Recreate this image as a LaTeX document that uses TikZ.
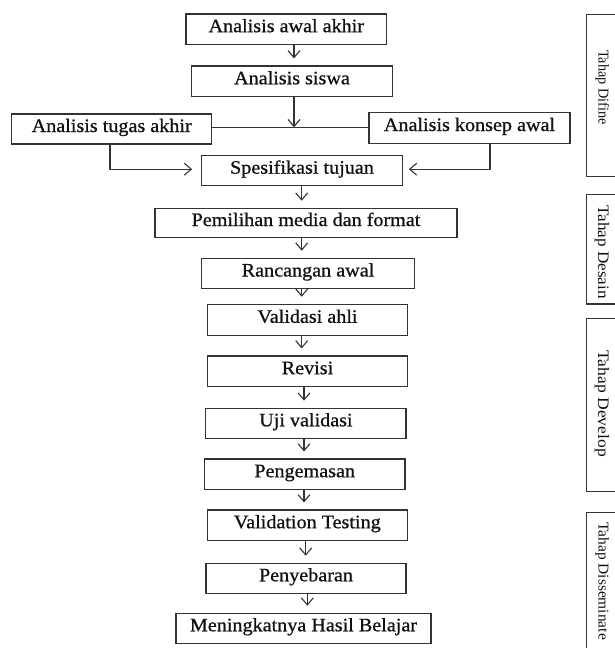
\documentclass[tikz,border=0pt]{standalone}
\usepackage{fontspec}
\setmainfont{Liberation Serif}[FakeStretch=1.06,FakeBold=0.8]
\newfontfamily\sidefont{Liberation Serif}
\usetikzlibrary{arrows.meta}
\definecolor{linecol}{HTML}{333333}
\definecolor{txtcol}{HTML}{111111}
\begin{document}
\begin{tikzpicture}[x=1pt,y=-1pt,
  box/.style={draw=linecol, line width=1.2pt, rectangle, inner sep=0pt,
    text=txtcol, text height=12pt, text depth=6pt,
    font=\fontsize{19}{22}\selectfont},
  arr/.style={draw=linecol, line width=1.1pt,
    -{Straight Barb[length=7pt,width=12pt,line width=1.1pt]}, shorten >=7pt},
  plain/.style={draw=linecol, line width=1.1pt},
  sidebox/.style={draw=linecol, line width=1.2pt},
  sidelab/.style={rotate=-90, inner sep=0pt, anchor=base west, text=txtcol}]
\useasboundingbox (0,0) rectangle (615,648);

% main boxes
\node[box, minimum width=200.7pt, minimum height=30.3pt] (aa) at (286.3,29.2) {Analisis awal akhir};
\node[box, minimum width=200.6pt, minimum height=30.7pt] (as) at (292,81.3) {Analisis siswa};
\node[box, minimum width=200pt,   minimum height=30pt]   (at) at (111.7,129) {Analisis tugas akhir};
\node[box, minimum width=201pt,   minimum height=30.6pt] (ak) at (469.5,128) {Analisis konsep awal};
\node[box, minimum width=200.6pt, minimum height=30pt]   (sp) at (302,170.7) {Spesifikasi tujuan};
\node[box, minimum width=302pt,   minimum height=29.4pt] (pm) at (306,223) {Pemilihan media dan format};
\node[box, minimum width=212.6pt, minimum height=30.4pt] (ra) at (308,273.5) {Rancangan awal};
\node[box, minimum width=199.6pt, minimum height=31pt]   (va) at (307.5,319.8) {Validasi ahli};
\node[box, minimum width=200.4pt, minimum height=30.3pt] (re) at (307.5,371.2) {Revisi};
\node[box, minimum width=200.3pt, minimum height=30pt]   (uj) at (305.9,423.3) {Uji validasi};
\node[box, minimum width=200.7pt, minimum height=30.3pt] (pg) at (304.7,474.2) {Pengemasan};
\node[box, minimum width=200pt,   minimum height=30.3pt] (vt) at (307.3,525.2) {Validation Testing};
\node[box, minimum width=200pt,   minimum height=30pt]   (py) at (306,578.3) {Penyebaran};
\node[box, minimum width=255pt,   minimum height=30pt]   (mh) at (303.5,628.3) {Meningkatnya Hasil Belajar};

% helper coordinates
\coordinate (c1) at (294,0);
\coordinate (c2) at (301.7,0);
\coordinate (c3) at (304,0);
\coordinate (c4) at (305.7,0);
\coordinate (c5) at (307.3,0);
\coordinate (cL) at (110,0);
\coordinate (cR) at (490,0);
\coordinate (hl) at (0,127.3);

% connectors
\draw[arr] (aa.south -| c1) -- (as.north -| c1);
\draw[plain] (at.east |- hl) -- (ak.west |- hl);
\draw[arr, shorten >=0pt] (as.south -| c1) -- (c1 |- hl);
\draw[arr, shorten >=9pt] (at.south -| cL) |- ([yshift=1.5pt]sp.west);
\draw[arr, shorten >=6pt] (ak.south -| cR) |- ([yshift=1.5pt]sp.east);
\draw[arr] (sp.south -| c2) -- (pm.north -| c2);
\draw[arr] (pm.south -| c2) -- (ra.north -| c2);
\draw[arr] (ra.south -| c2) -- (va.north -| c2);
\draw[arr] (va.south -| c2) -- (re.north -| c2);
\draw[arr] (re.south -| c3) -- (uj.north -| c3);
\draw[arr] (uj.south -| c3) -- (pg.north -| c3);
\draw[arr] (pg.south -| c3) -- (vt.north -| c3);
\draw[arr] (vt.south -| c4) -- (py.north -| c4);
\draw[arr] (py.south -| c5) -- (mh.north -| c5);

% stage boxes on the right
\draw[sidebox] (630,14.7) -- (586.5,14.7) -- (586.5,176.7) -- (630,176.7);
\draw[sidebox] (630,194.7) -- (586.5,194.7) -- (586.5,304) -- (630,304);
\draw[sidebox] (630,318.3) -- (586.5,318.3) -- (586.5,491.7) -- (630,491.7);
\draw[sidebox] (630,512.3) -- (586.5,512.3) -- (586.5,660);

\node[sidelab, font=\sidefont\fontsize{15}{17}\selectfont] (l1) at (598.5,50) {\scalebox{0.95}[1]{Tahap Difine}};
\node[sidelab, font=\sidefont\fontsize{16}{18}\selectfont] (l2) at (598,205) {\scalebox{1.07}[1]{Tahap Desain}};
\node[sidelab, font=\sidefont\fontsize{16}{18}\selectfont] (l3) at (598,350) {\scalebox{1.10}[1]{Tahap Develop}};
\node[sidelab, font=\sidefont\fontsize{15}{17}\selectfont] (l4) at (598.5,522) {\scalebox{1.03}[1]{Tahap Disseminate}};
\end{tikzpicture}
\end{document}
